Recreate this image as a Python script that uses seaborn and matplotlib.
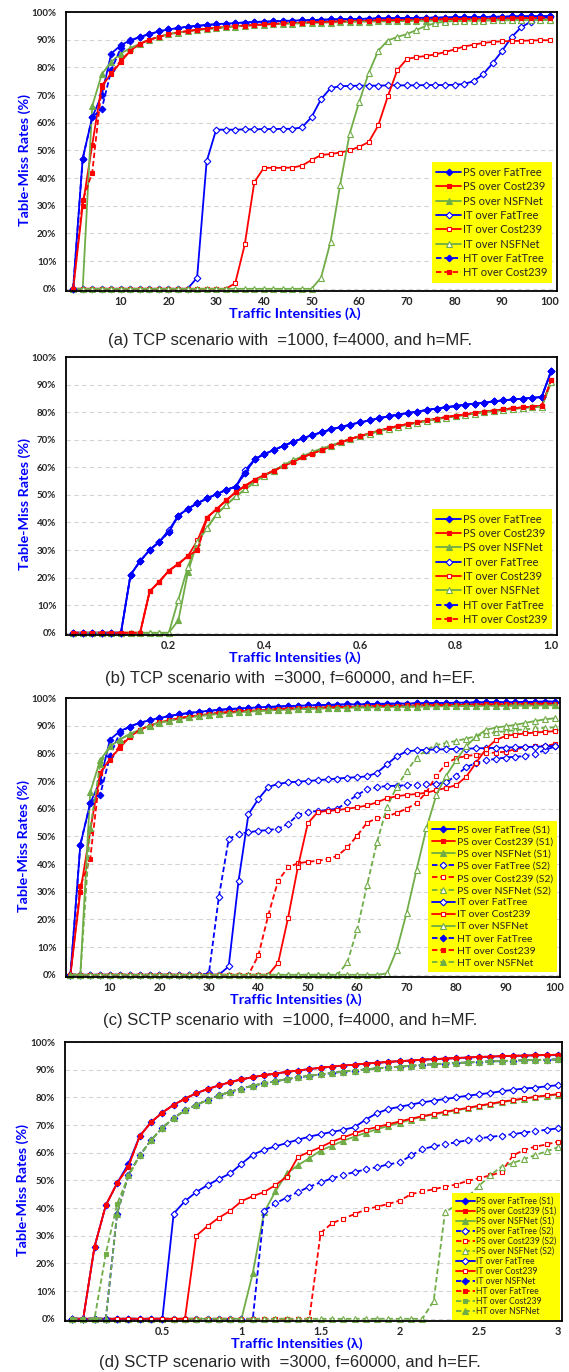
import numpy as np
import seaborn as sns
import matplotlib.pyplot as plt

# ---------------- data (table-miss rates in %) ----------------

# (a) TCP scenario, =1000, f=4000, h=MF
lam_a = np.arange(0, 101, 2)
a_ps_fat = [0, 47, 62, 70, 85, 88, 89.8, 91, 92, 93, 93.7, 94.2, 94.7, 95, 95.3, 95.6, 95.8, 96, 96.2,
            96.4, 96.5, 96.6, 96.8, 96.9, 97, 97.1, 97.2, 97.3, 97.4, 97.5, 97.5, 97.6, 97.7, 97.7, 97.8,
            97.8, 97.9, 97.9, 98, 98, 98.1, 98.1, 98.2, 98.2, 98.3, 98.3, 98.4, 98.4, 98.5, 98.5, 98.6]
a_ht_fat = [0, 47, 62, 65, 79, 87, 89.5] + a_ps_fat[7:]
a_ps_cost = [0, 30, 52, 73.5, 77.5, 82, 86, 88.5, 90, 91, 92, 92.6, 93.1, 93.6, 94, 94.3, 94.6, 94.9,
             95.1, 95.3, 95.5, 95.7, 95.9, 96, 96.2, 96.3, 96.4, 96.5, 96.6, 96.7, 96.8, 96.9, 97, 97,
             97.1, 97.2, 97.2, 97.3, 97.3, 97.4, 97.4, 97.5, 97.5, 97.6, 97.6, 97.7, 97.7, 97.8, 97.8,
             97.9, 97.9]
a_ht_cost = [0, 32, 42, 73, 78, 82.5] + a_ps_cost[6:]
a_ps_nsf = [0, 0, 66, 77.5, 82, 85, 87, 88.5, 90, 91, 92, 92.5, 93, 93.4, 93.8, 94.1, 94.4, 94.7, 95,
            95.2, 95.4, 95.6, 95.7, 95.8, 95.9, 96, 96.1, 96.2, 96.3, 96.4, 96.5, 96.5, 96.6, 96.6, 96.7,
            96.7, 96.8, 96.8, 96.9, 96.9, 96.9, 97, 97, 97, 97, 97.1, 97.1, 97.1, 97.1, 97.2, 97.2]
a_it_fat = [0] * 13 + [4, 46, 57.5, 57.5, 57.5, 57.6, 57.6, 57.7, 57.7, 57.8, 57.8, 58.3, 62, 68.5,
                       72.5, 73.2, 73.3, 73.4, 73.4, 73.4, 73.5, 73.5, 73.5, 73.5, 73.6, 73.6, 73.6,
                       73.7, 74, 75, 77.5, 81.5, 86, 91, 94.5, 96.5, 97.8, 98.3]
a_it_cost = [0] * 17 + [2, 16, 38.5, 43.7, 43.7, 43.7, 43.8, 44.5, 46.5, 48.3, 48.7, 49.2, 50, 51.3,
                        53, 59, 69.5, 79, 83, 83.7, 84.1, 84.7, 85.5, 86.5, 87.5, 88.2, 88.8, 89.2,
                        89.4, 89.5, 89.6, 89.7, 89.8, 89.8]
a_it_nsf = [0] * 26 + [4, 17, 37.5, 56, 67.5, 78, 86, 89.7, 91, 92, 93.5, 95, 96, 96.5, 96.7, 96.8,
                       96.9, 96.9, 97, 97, 97, 97.1, 97.1, 97.1, 97.2]

# (b) TCP scenario, =3000, f=60000, h=EF
lam_b = np.arange(0, 51) / 50
b_fat = [0] * 6 + [21, 26, 30, 33, 36.5, 42.5, 45, 47, 48.7, 50.3, 51.8, 53, 58, 63, 64.8, 66.3, 67.8,
                   69.2, 70.5, 71.7, 72.7, 73.8, 74.6, 75.5, 76.3, 77, 77.8, 78.5, 79.1, 79.7, 80.2,
                   80.8, 81.3, 81.8, 82.2, 82.7, 83.1, 83.5, 83.9, 84.3, 84.6, 84.9, 85.2, 85.5, 95]
b_it_fat = b_fat[:10] + [37.2] + b_fat[11:18] + [59] + b_fat[19:]
b_cost = [0] * 8 + [15, 18.5, 22.5, 25, 27.8, 30, 41.8, 44.8, 48, 51, 53.3, 55.5, 57.2, 58.8, 60.5, 62,
                    63.7, 65, 66.3, 67.7, 69, 70.3, 71.3, 72.3, 73.3, 74.2, 75, 75.7, 76.3, 77, 77.6,
                    78.2, 78.7, 79.2, 79.7, 80.2, 80.6, 81, 81.4, 81.7, 82, 82.3, 91.5]
b_it_cost = b_cost[:13] + [33.5] + b_cost[14:]
b_nsf = [0] * 11 + [4.5, 22, 33, 38, 43, 46.3, 49.5, 52, 54.8, 57, 58.8, 60.8, 62.5, 64, 65.5, 66.8,
                    67.9, 69.1, 70.3, 71.2, 72.2, 73.1, 74, 74.8, 75.5, 76.2, 76.8, 77.5, 78, 78.5, 79,
                    79.5, 80, 80.4, 80.8, 81.2, 81.5, 81.8, 82, 91]
b_it_nsf = b_nsf[:11] + [12, 24] + b_nsf[13:]

# (c) SCTP scenario, =1000, f=4000, h=MF
lam_c = np.arange(2, 101, 2)
c_ps1_fat = [0, 47, 62, 70, 85, 88, 89.7, 91, 92, 92.8, 93.5, 94.1, 94.6, 95, 95.4, 95.7, 96, 96.2, 96.4,
             96.6, 96.8, 96.9, 97.1, 97.2, 97.3, 97.4, 97.5, 97.6, 97.7, 97.7, 97.8, 97.9, 97.9, 98, 98,
             98.1, 98.1, 98.2, 98.2, 98.3, 98.3, 98.4, 98.4, 98.5, 98.5, 98.5, 98.6, 98.6, 98.7, 98.7]
c_ht_fat = [0, 47, 62, 65, 79, 87.5] + c_ps1_fat[6:]
c_ps1_cost = [0, 30, 52, 73, 78, 82, 86, 88.5, 90, 91.2, 92, 92.7, 93.3, 93.8, 94.2, 94.6, 94.9, 95.2,
              95.4, 95.6, 95.8, 96, 96.2, 96.3, 96.4, 96.5, 96.6, 96.7, 96.8, 96.9, 97, 97.1, 97.1, 97.2,
              97.3, 97.3, 97.4, 97.4, 97.5, 97.5, 97.6, 97.6, 97.7, 97.7, 97.8, 97.8, 97.8, 97.9, 97.9, 98]
c_ht_cost = [0, 32, 42, 73, 77.5, 83] + c_ps1_cost[6:]
c_ps1_nsf = [0, 0, 66, 77.5, 82.5, 85, 87, 88.5, 90, 91, 91.8, 92.5, 93, 93.5, 93.9, 94.3, 94.6, 94.9,
             95.1, 95.3, 95.5, 95.7, 95.8, 96, 96.1, 96.2, 96.3, 96.4, 96.5, 96.6, 96.6, 96.7, 96.8, 96.8,
             96.9, 96.9, 97, 97, 97, 97.1, 97.1, 97.1, 97.2, 97.2, 97.2, 97.3, 97.3, 97.3, 97.3, 97.4]
c_ht_nsf = [0, 0, 53, 76] + c_ps1_nsf[4:]
c_ps2_fat = [0] * 14 + [0.5, 28, 49, 51, 51.5, 52, 52.3, 52.8, 54.5, 57.8, 58.8, 59.2, 59.5, 60, 62.5,
                        65, 67, 67.8, 68.2, 68.3, 68.5, 68.7, 68.8, 69, 69.5, 72, 75, 76.5, 77.5, 78,
                        78.5, 78.8, 79, 79.8, 81.2, 82.5]
c_ps2_cost = [0] * 19 + [7, 21.5, 34, 38.8, 40.3, 40.8, 41.2, 41.8, 43, 46, 50.3, 55, 56.5, 57.2, 58.5,
                         60, 62, 66, 72, 76.3, 78.3, 79, 79.5, 80, 80.3, 80.6, 81.5, 82.2, 82.5, 82.8,
                         83.3]
c_ps2_nsf = [0] * 28 + [4.5, 16.5, 32.5, 48, 60.5, 68, 73.5, 78.5, 81.3, 83, 83.8, 84.5, 85.3, 86.2,
                        87, 87.6, 88, 88.4, 88.7, 89, 89.2, 89.4]
c_it_fat = [0] * 16 + [3, 34, 58, 63.5, 67.8, 69, 69.5, 69.8, 70, 70.3, 70.6, 70.9, 71.2, 71.4, 71.7,
                       73, 76, 79, 80.7, 81.1, 81.3, 81.4, 81.5, 81.6, 81.7, 81.8, 81.9, 82, 82.1, 82.2,
                       82.3, 82.4, 82.5, 82.7]
c_it_cost = [0] * 21 + [4.3, 20.5, 39, 54.7, 58.8, 59.2, 59.5, 60, 60.5, 61.2, 62.3, 63.8, 64.5, 65,
                        65.3, 65.8, 66.7, 67.5, 68.5, 71.5, 76.5, 81.5, 84.8, 86.3, 86.8, 87.2, 87.5,
                        87.8, 88]
c_it_nsf = [0] * 32 + [0.5, 9, 22.5, 38, 53, 65, 72, 77.5, 82.5, 86, 88.5, 89.3, 89.8, 90.3, 91, 91.7,
                       92.3, 92.7]

# (d) SCTP scenario, =3000, f=60000, h=EF
lam_d = np.arange(-1, 43) / 14
d_ps1_cost = [0, 0, 26, 41, 49, 55, 66, 71, 74.5, 77.3, 79.5, 81.5, 83, 84.3, 85.5, 86.5, 87.3, 88, 88.6,
              89.2, 89.7, 90.2, 90.7, 91.1, 91.5, 91.8, 92.2, 92.5, 92.8, 93.1, 93.3, 93.6, 93.8, 94,
              94.2, 94.4, 94.6, 94.7, 94.9, 95, 95.1, 95.2, 95.3, 95.4]
d_ps1_fat = [0, 0, 26, 41, 49, 56] + d_ps1_cost[6:]
d_green_top = [0, 0, 0, 23.5, 41.5, 51.5, 59, 64.5, 69, 72.5, 75.3, 77.3, 79, 80.7, 82, 83.2, 84.2,
               85.1, 85.8, 86.6, 87.2, 87.8, 88.3, 88.8, 89.3, 89.7, 90.1, 90.5, 90.8, 91.1, 91.4, 91.7,
               92, 92.2, 92.4, 92.6, 92.8, 93, 93.1, 93.3, 93.4, 93.5, 93.6, 93.7]
d_late_top = [0, 0, 0, 0, 38, 52] + d_green_top[6:]
d_ps1_nsf = [0] * 16 + [16.5, 38.5, 46, 52.5, 55.5, 58, 60.8, 62.5, 64.3, 65.8, 67.2, 68.5, 69.7, 70.8,
                        72, 73, 73.8, 74.6, 75.3, 76, 76.8, 77.5, 78.2, 78.9, 79.5, 80.1, 80.6, 81]
d_ps2_fat = [0] * 17 + [39, 41.7, 43.8, 45.8, 47.7, 49.3, 50.7, 52, 53, 54, 54.8, 55.8, 56.5, 59, 61.3,
                        62.3, 63, 63.8, 64.5, 65.2, 65.7, 66.2, 66.7, 67.3, 67.8, 68.3, 68.8]
d_ps2_cost = [0] * 22 + [31, 34.5, 36.2, 37.8, 39.5, 40.5, 41.5, 42.7, 45, 46, 46.8, 47.7, 48.5, 49.8,
                         50.8, 51.8, 53, 59, 61, 62.2, 63, 64]
d_ps2_nsf = [0] * 32 + [6.5, 38.5, 41, 44, 48, 51.8, 55, 56.3, 57.7, 59.2, 60.5, 62]
d_it_fat = [0] * 9 + [38, 42.5, 45.8, 48.3, 50.5, 52.5, 56, 59.3, 61, 62.3, 63.5, 64.7, 65.8, 66.7, 67.5,
                      68.3, 69.2, 72, 74.3, 75.8, 76.6, 77.4, 78.2, 78.8, 79.4, 80, 80.6, 81.1, 81.6,
                      82.2, 82.7, 83.2, 83.5, 84, 84.4]
d_it_cost = [0] * 11 + [30, 33.5, 36.5, 39, 42.5, 44.3, 45.8, 48.3, 51.3, 58.5, 60.3, 62, 64, 65.5, 67,
                        68.3, 69.3, 70.3, 71.3, 72.3, 73.2, 74, 74.8, 75.5, 76.2, 77, 77.7, 78.4, 79,
                        79.6, 80.2, 80.7, 81.2]

captions = ["(a) TCP scenario with  =1000, f=4000, and h=MF.",
            "(b) TCP scenario with  =3000, f=60000, and h=EF.",
            "(c) SCTP scenario with  =1000, f=4000, and h=MF.",
            "(d) SCTP scenario with  =3000, f=60000, and h=EF."]

# ---------------- styling ----------------
sns.set_theme(style="white")
plt.rcParams['font.family'] = ['Lato', 'DejaVu Sans']

BLUE, RED, GREEN = '#0000FF', '#FF0000', '#70AD47'
W, H = 569, 1372
fig = plt.figure(figsize=(W / 100, H / 100), dpi=100)


def make_axes(left, right, top, bottom):
    return fig.add_axes([left / W, 1 - bottom / H, (right - left) / W, (bottom - top) / H])


def draw(ax, x, series, xlim, xticks, xticklabels, leg_size, leg_anchor, leg_spacing):
    for label, y, color, marker, filled, dashed in series:
        ms = 4.2 if marker == '^' else 3.4
        sns.lineplot(x=x, y=y, ax=ax, color=color, marker=marker, markersize=ms,
                     markerfacecolor=color if filled else 'white', markeredgecolor=color,
                     markeredgewidth=0.8, linewidth=1.3,
                     linestyle=(0, (3, 1.6)) if dashed else '-',
                     label=label, errorbar=None, clip_on=False)
    ax.set_xlim(*xlim)
    ax.set_ylim(-0.8, 100)
    ax.set_yticks(range(0, 101, 10))
    ax.set_yticklabels([f"{v}%" for v in range(0, 101, 10)], fontsize=7.0, fontweight='bold')
    ax.set_xticks(xticks)
    ax.set_xticklabels(xticklabels, fontsize=7.8, fontweight='bold')
    ax.tick_params(axis='both', length=0)
    ax.tick_params(axis='y', pad=7)
    ax.tick_params(axis='x', pad=3.5)
    ax.yaxis.grid(True, linestyle=(0, (4, 3)), color='#d4d4d4', linewidth=0.8)
    ax.xaxis.grid(False)
    for sp in ax.spines.values():
        sp.set_color('black')
        sp.set_linewidth(1.3)
    ax.set_xlabel("Traffic Intensities (λ)", fontsize=10.4, fontweight='bold', color=BLUE)
    ax.xaxis.set_label_coords(0.466, -0.058)
    ax.set_ylabel("Table-Miss Rates (%)", fontsize=10.3, fontweight='bold', color=BLUE)
    ax.yaxis.set_label_coords(-0.072, 0.47)
    ax.legend(loc='lower right', bbox_to_anchor=leg_anchor, prop={'size': leg_size},
              facecolor='#FFFF00', edgecolor='none', framealpha=1, fancybox=False,
              borderpad=0.4, labelspacing=leg_spacing, handlelength=2.2, handletextpad=0.2,
              borderaxespad=0)


ticks_100 = [10, 20, 30, 40, 50, 60, 70, 80, 90, 100]

# (a)
ax_a = make_axes(66, 557, 12, 291)
draw(ax_a, lam_a, [
    ("PS over FatTree", a_ps_fat, BLUE, 'D', True, False),
    ("PS over Cost239", a_ps_cost, RED, 's', True, False),
    ("PS over NSFNet", a_ps_nsf, GREEN, '^', True, False),
    ("IT over FatTree", a_it_fat, BLUE, 'D', False, False),
    ("IT over Cost239", a_it_cost, RED, 's', False, False),
    ("IT over NSFNet", a_it_nsf, GREEN, '^', False, False),
    ("HT over FatTree", a_ht_fat, BLUE, 'D', True, True),
    ("HT over Cost239", a_ht_cost, RED, 's', True, True),
], (-1.5, 101.5), ticks_100, [str(t) for t in ticks_100], 8.0, (0.99, 0.03), 0.3)

# (b)
ax_b = make_axes(66, 557, 357, 635)
draw(ax_b, lam_b, [
    ("PS over FatTree", b_fat, BLUE, 'D', True, False),
    ("PS over Cost239", b_cost, RED, 's', True, False),
    ("PS over NSFNet", b_nsf, GREEN, '^', True, False),
    ("IT over FatTree", b_it_fat, BLUE, 'D', False, False),
    ("IT over Cost239", b_it_cost, RED, 's', False, False),
    ("IT over NSFNet", b_it_nsf, GREEN, '^', False, False),
    ("HT over FatTree", b_fat, BLUE, 'D', True, True),
    ("HT over Cost239", b_cost, RED, 's', True, True),
], (-0.015, 1.012), [0.2, 0.4, 0.6, 0.8, 1.0], ["0.2", "0.4", "0.6", "0.8", "1.0"],
    8.0, (0.99, 0.02), 0.3)

# (c)
ax_c = make_axes(66, 560, 698, 977)
draw(ax_c, lam_c, [
    ("PS over FatTree (S1)", c_ps1_fat, BLUE, 'D', True, False),
    ("PS over Cost239 (S1)", c_ps1_cost, RED, 's', True, False),
    ("PS over NSFNet (S1)", c_ps1_nsf, GREEN, '^', True, False),
    ("PS over FatTree (S2)", c_ps2_fat, BLUE, 'D', False, True),
    ("PS over Cost239 (S2)", c_ps2_cost, RED, 's', False, True),
    ("PS over NSFNet (S2)", c_ps2_nsf, GREEN, '^', False, True),
    ("IT over FatTree", c_it_fat, BLUE, 'D', False, False),
    ("IT over Cost239", c_it_cost, RED, 's', False, False),
    ("IT over NSFNet", c_it_nsf, GREEN, '^', False, False),
    ("HT over FatTree", c_ht_fat, BLUE, 'D', True, True),
    ("HT over Cost239", c_ht_cost, RED, 's', True, True),
    ("HT over NSFNet", c_ht_nsf, GREEN, '^', True, True),
], (1.1, 101), ticks_100, [str(t) for t in ticks_100], 7.5, (0.994, 0.018), 0.27)

# (d)
ax_d = make_axes(65, 562, 1042, 1321)
draw(ax_d, lam_d, [
    ("PS over FatTree (S1)", d_ps1_fat, BLUE, 'D', True, False),
    ("PS over Cost239 (S1)", d_ps1_cost, RED, 's', True, False),
    ("PS over NSFNet (S1)", d_ps1_nsf, GREEN, '^', True, False),
    ("PS over FatTree (S2)", d_ps2_fat, BLUE, 'D', False, True),
    ("PS over Cost239 (S2)", d_ps2_cost, RED, 's', False, True),
    ("PS over NSFNet (S2)", d_ps2_nsf, GREEN, '^', False, True),
    ("IT over FatTree", d_it_fat, BLUE, 'D', False, False),
    ("IT over Cost239", d_it_cost, RED, 's', False, False),
    ("IT over NSFNet", d_late_top, BLUE, 'D', True, True),
    ("HT over FatTree", d_ps1_cost, RED, 's', True, True),
    ("HT over Cost239", d_green_top, GREEN, 's', True, True),
    ("HT over NSFNet", d_late_top, GREEN, '^', True, True),
], (-0.115, 3.025), [0.5, 1, 1.5, 2, 2.5, 3], ["0.5", "1", "1.5", "2", "2.5", "3"],
    6.2, (0.996, 0.005), 0.12)

for cap, yp in zip(captions, [341, 678, 1021, 1362]):
    fig.text(290 / W, 1 - yp / H, cap, ha='center', va='center', fontsize=12,
             family=['Liberation Sans', 'DejaVu Sans'])

fig.savefig('out.png', dpi=100)
